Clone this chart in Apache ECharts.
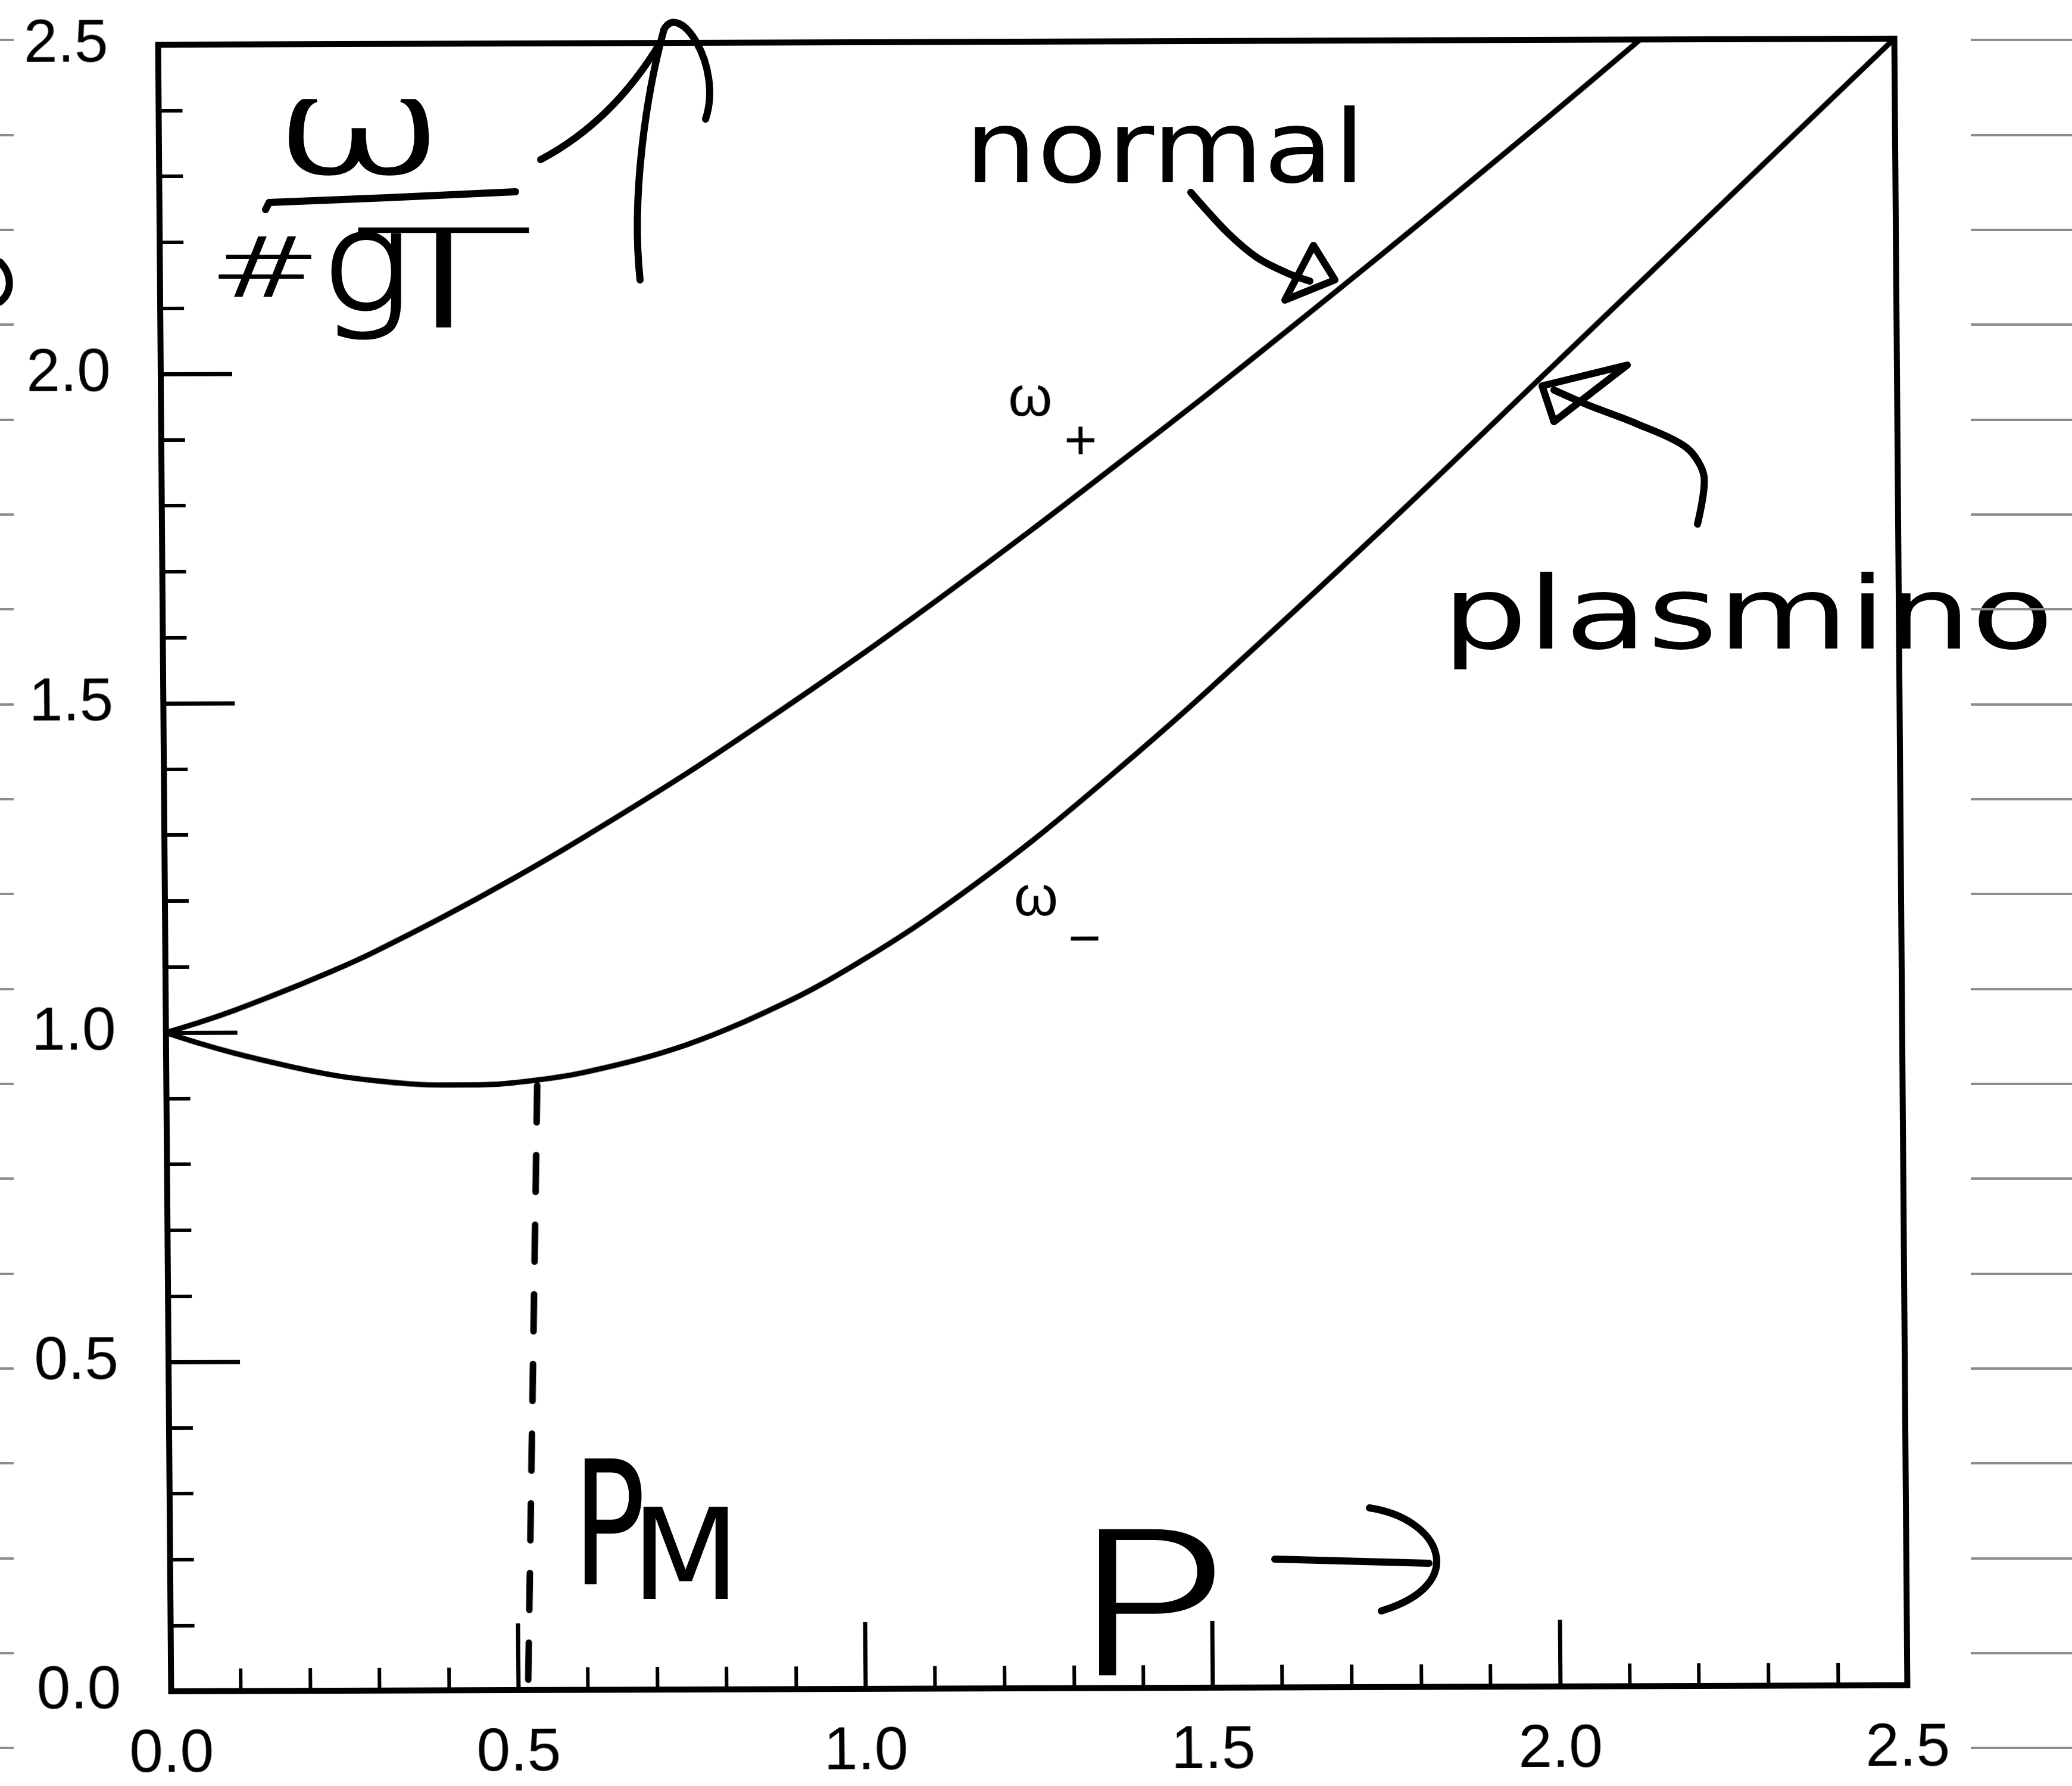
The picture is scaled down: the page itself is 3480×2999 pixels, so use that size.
<!DOCTYPE html>
<html>
<head>
<meta charset="utf-8">
<script src="https://cdn.jsdelivr.net/npm/echarts@6/dist/echarts.min.js"></script>
<style>
html, body { margin: 0; padding: 0; background: #fff; }
#paper, #plot { position: absolute; left: 0; top: 0; width: 3480px; height: 2999px; }
#plot { transform-origin: 0 0; transform: matrix(1, -0.0035, 0.0079, 1, 0, 0); }
</style>
</head>
<body>
<div id="paper"></div>
<div id="plot"></div>
<script>
// ---- data ----
const pPlus = [0, 0.05, 0.1, 0.15, 0.2, 0.25, 0.3, 0.4, 0.5, 0.6, 0.75, 0.875, 1.0, 1.125, 1.25, 1.375, 1.5, 1.625, 1.75, 1.875, 2.0, 2.125, 2.25, 2.5];
const omegaPlus = [1.0, 1.016, 1.034, 1.054, 1.075, 1.097, 1.121, 1.174, 1.231, 1.292, 1.389, 1.476, 1.566, 1.660, 1.757, 1.857, 1.958, 2.062, 2.167, 2.274, 2.382, 2.492, 2.603, 2.827];
const pMinus = [0, 0.05, 0.1, 0.15, 0.2, 0.25, 0.3, 0.35, 0.4, 0.45, 0.5, 0.6, 0.75, 0.9, 1.0, 1.1, 1.25, 1.4, 1.5, 1.75, 2.0, 2.25, 2.5];
const omegaMinus = [1.0, 0.983, 0.968, 0.955, 0.943, 0.933, 0.926, 0.921, 0.919, 0.919, 0.922, 0.937, 0.979, 1.046, 1.104, 1.171, 1.287, 1.418, 1.510, 1.751, 2.0, 2.25, 2.5];
const pmMarkerP = [0.534, 0.514];
const pmMarkerOmega = [0.918, 0.0];
const axisTickLabels = ['0.0', '0.5', '1.0', '1.5', '2.0', '2.5'];
const curveNames = ['ω', '+', 'ω', '−'];
const notes = ['ω', '#', 'g', 'T', 'normal', 'plasmino', 'P', 'M', 'P'];

const tickFmt = v => axisTickLabels[Math.round(v / 0.5)];
const pairs = (xs, ys) => xs.map((x, i) => [x, ys[i]]);

// ---- plot layer (axes, curves) ----
const plot = echarts.init(document.getElementById('plot'), null, { renderer: 'canvas' });
const axisCommon = {
  type: 'value', min: 0, max: 2.5, interval: 0.5,
  splitLine: { show: false }, minorSplitLine: { show: false },
  axisLine: { show: true, onZero: false, lineStyle: { color: '#000', width: 10 } }
};
plot.setOption({
  animation: false,
  backgroundColor: 'transparent',
  grid: { left: 265, top: 76, width: 2916, height: 2782, show: true, borderColor: '#000', borderWidth: 10, backgroundColor: 'transparent' },
  xAxis: Object.assign({}, axisCommon, {
    axisTick: { show: true, inside: true, length: 112, lineStyle: { color: '#000', width: 7 } },
    minorTick: { show: true, splitNumber: 5, length: 38, lineStyle: { color: '#000', width: 6 } },
    axisLabel: { show: true, margin: 56, fontFamily: 'Liberation Sans', fontSize: 102, color: '#000', formatter: tickFmt }
  }),
  yAxis: Object.assign({}, axisCommon, {
    axisTick: { show: true, inside: true, length: 120, lineStyle: { color: '#000', width: 7 } },
    minorTick: { show: true, splitNumber: 5, length: 40, lineStyle: { color: '#000', width: 6 } },
    axisLabel: { show: true, margin: 84, fontFamily: 'Liberation Sans', fontSize: 102, color: '#000', formatter: tickFmt }
  }),
  series: [
    { type: 'line', name: 'omega_plus', data: pairs(pPlus, omegaPlus), smooth: 0.35, showSymbol: false, clip: true, lineStyle: { color: '#000', width: 9 } },
    { type: 'line', name: 'omega_minus', data: pairs(pMinus, omegaMinus), smooth: 0.35, showSymbol: false, clip: true, lineStyle: { color: '#000', width: 9 } },
    { type: 'line', name: 'p_M', data: pairs(pmMarkerP, pmMarkerOmega), showSymbol: false, lineStyle: { color: '#000', width: 11, type: [62, 55], cap: 'round' } }
  ],
  graphic: [
    { type: 'text', x: 1725, y: 678, silent: true, style: { text: curveNames[0], font: '95px "Liberation Sans"', fill: '#000', textAlign: 'center', textVerticalAlign: 'middle' } },
    { type: 'text', x: 1809, y: 751, silent: true, style: { text: curveNames[1], font: '95px "Liberation Sans"', fill: '#000', textAlign: 'center', textVerticalAlign: 'middle' } },
    { type: 'text', x: 1728, y: 1517, silent: true, style: { text: curveNames[2], font: '95px "Liberation Sans"', fill: '#000', textAlign: 'center', textVerticalAlign: 'middle' } },
    { type: 'text', x: 1809, y: 1588, silent: true, style: { text: curveNames[3], font: '95px "Liberation Sans"', fill: '#000', textAlign: 'center', textVerticalAlign: 'middle' } }
  ]
});

// ---- paper layer (ruled lines, handwriting) ----
const paper = echarts.init(document.getElementById('paper'), null, { renderer: 'canvas' });
const ruled = { type: 'value', min: 0, max: 18, interval: 1, axisLine: { show: false }, axisTick: { show: false }, axisLabel: { show: false }, splitLine: { show: true, lineStyle: { color: '#8c8c8c', width: 4 } } };
const hw = { stroke: '#000', lineWidth: 12, fill: null, lineCap: 'round', lineJoin: 'round' };
const hwText = (t, x, y, size, sx, align, weight, outline) => ({
  type: 'text', x: x, y: y, scaleX: sx, silent: true,
  style: { text: t, font: (weight || 'normal') + ' ' + size + 'px "DejaVu Sans"', fill: '#000',
           stroke: outline ? '#000' : null, lineWidth: outline || 0,
           textAlign: align || 'left', textVerticalAlign: 'middle' }
});
paper.setOption({
  animation: false,
  backgroundColor: '#fff',
  grid: [
    { left: 0, top: 67, width: 23, height: 2868, show: false },
    { left: 3310, top: 67, width: 170, height: 2868, show: false }
  ],
  xAxis: [
    { type: 'value', gridIndex: 0, show: false, min: 0, max: 1 },
    { type: 'value', gridIndex: 1, show: false, min: 0, max: 1 }
  ],
  yAxis: [
    Object.assign({ gridIndex: 0 }, ruled),
    Object.assign({ gridIndex: 1 }, ruled)
  ],
  series: [
    { type: 'line', xAxisIndex: 0, yAxisIndex: 0, data: [] },
    { type: 'line', xAxisIndex: 1, yAxisIndex: 1, data: [] }
  ],
  graphic: [
    // omega / #gT
    hwText(notes[0], 605, 232, 220, 1.6, 'center', 200, 5),
    { type: 'polyline', silent: true, shape: { points: [[446, 352], [452, 340], [650, 332], [866, 322]] }, style: hw },
    hwText(notes[1], 445, 462, 139, 1.6, 'center', 200, 2),
    hwText(notes[2], 615, 460, 230, 1.1, 'center', 200, 5),
    hwText(notes[3], 745, 490, 230, 2.2, 'center', 200, 0),
    // upward arrow
    { type: 'bezierCurve', silent: true, shape: { x1: 1075, y1: 470, cpx1: 1060, cpy1: 330, cpx2: 1085, cpy2: 160, x2: 1115, y2: 50 }, style: hw },
    { type: 'bezierCurve', silent: true, shape: { x1: 908, y1: 268, cpx1: 980, cpy1: 230, cpx2: 1050, cpy2: 170, x2: 1110, y2: 70 }, style: hw },
    { type: 'bezierCurve', silent: true, shape: { x1: 1115, y1: 50, cpx1: 1140, cpy1: 0, cpx2: 1215, cpy2: 110, x2: 1185, y2: 200 }, style: hw },
    // normal + arrow
    hwText(notes[4], 1620, 262, 170, 1.13, 'left'),
    { type: 'polyline', silent: true, shape: { points: [[2000, 323], [2061, 390], [2112, 433], [2163, 459], [2200, 472]], smooth: 0.3 }, style: hw },
    { type: 'polygon', silent: true, shape: { points: [[2206, 412], [2158, 504], [2242, 470]] }, style: hw },
    // plasmino + arrow
    hwText(notes[5], 2422, 1045, 170, 1.33, 'left'),
    { type: 'polyline', silent: true, shape: { points: [[2851, 880], [2862, 800], [2833, 752], [2750, 712], [2667, 680], [2610, 655]], smooth: 0.3 }, style: hw },
    { type: 'polygon', silent: true, shape: { points: [[2590, 648], [2733, 613], [2610, 708]] }, style: hw },
    // P_M
    hwText(notes[6], 962, 2585, 290, 0.7, 'left'),
    hwText(notes[7], 1060, 2630, 212, 1.0, 'left'),
    // P ->
    hwText(notes[8], 1795, 2725, 330, 1.35, 'left', 200, 5),
    { type: 'line', silent: true, shape: { x1: 2141, y1: 2618, x2: 2400, y2: 2625 }, style: hw },
    { type: 'bezierCurve', silent: true, shape: { x1: 2300, y1: 2532, cpx1: 2420, cpy1: 2550, cpx2: 2470, cpy2: 2660, x2: 2320, y2: 2705 }, style: hw },
    // cut-off mark at left edge
    { type: 'bezierCurve', silent: true, shape: { x1: 0, y1: 440, cpx1: 20, cpy1: 460, cpx2: 22, cpy2: 490, x2: 0, y2: 507 }, style: hw }
  ]
});
</script>
</body>
</html>
